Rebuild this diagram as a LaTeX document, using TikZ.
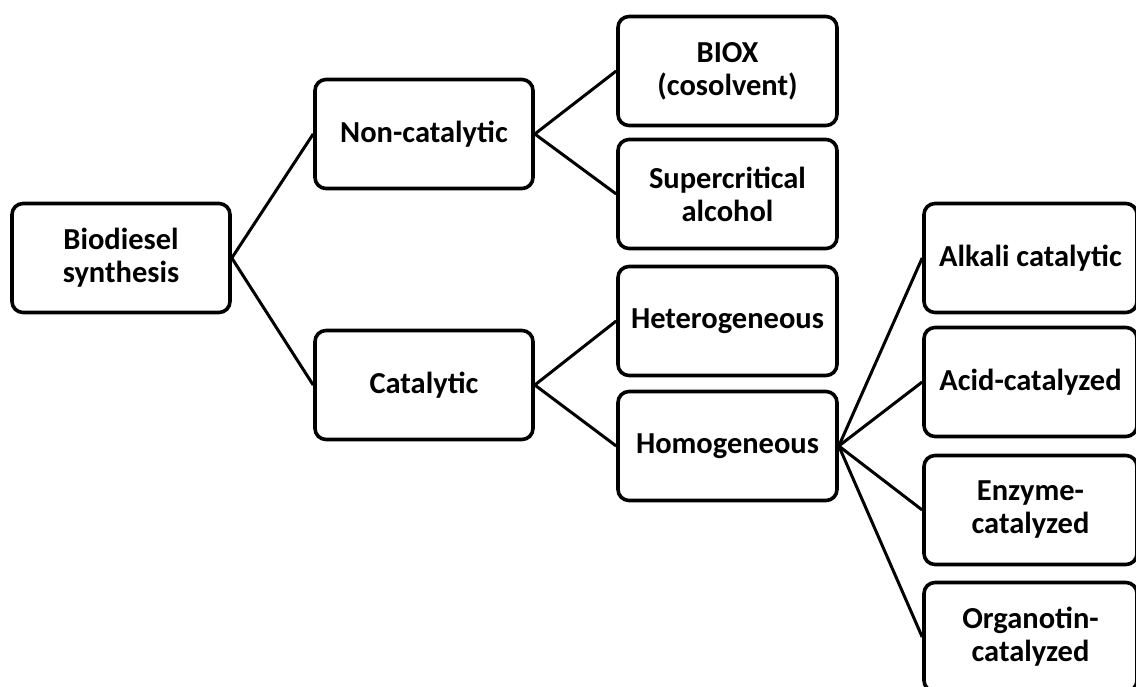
\documentclass[tikz,border=0pt]{standalone}
\usepackage{fontspec}
\setmainfont{Carlito}
\begin{document}
\begin{tikzpicture}[x=1pt,y=-1pt,
  box/.style={draw=black, line width=3.6pt, rounded corners=11pt, fill=white,
    minimum width=#1, minimum height=109pt, align=center, inner sep=2pt,
    font=\fontsize{30.5}{33}\selectfont\bfseries},
  box/.default=218pt,
  link/.style={draw=black, line width=3pt}]
\useasboundingbox (0,0) rectangle (1136,687);
\node[box] (bio) at (121,258) {Biodiesel\\synthesis};
\node[box] (non) at (424,134) {Non-catalytic};
\node[box] (cat) at (424,385) {Catalytic};
\node[box=219pt] (biox) at (727.5,71) {BIOX\\(cosolvent)};
\node[box=219pt] (sup) at (727.5,194) {Supercritical\\alcohol};
\node[box=219pt] (het) at (727.5,321) {Heterogeneous};
\node[box=219pt] (hom) at (727.5,446) {Homogeneous};
\node[box=213pt] (alk) at (1030.5,258) {Alkali catalytic};
\node[box=213pt] (acid) at (1030.5,382) {Acid-catalyzed};
\node[box=213pt] (enz) at (1030.5,510) {Enzyme-\\catalyzed};
\node[box=213pt] (org) at (1030.5,637) {Organotin-\\catalyzed};
\draw[link] (bio.east) -- (non.west);
\draw[link] (bio.east) -- (cat.west);
\draw[link] (non.east) -- (biox.west);
\draw[link] (non.east) -- (sup.west);
\draw[link] (cat.east) -- (het.west);
\draw[link] (cat.east) -- (hom.west);
\draw[link] (hom.east) -- (alk.west);
\draw[link] (hom.east) -- (acid.west);
\draw[link] (hom.east) -- (enz.west);
\draw[link] (hom.east) -- (org.west);
\end{tikzpicture}
\end{document}
